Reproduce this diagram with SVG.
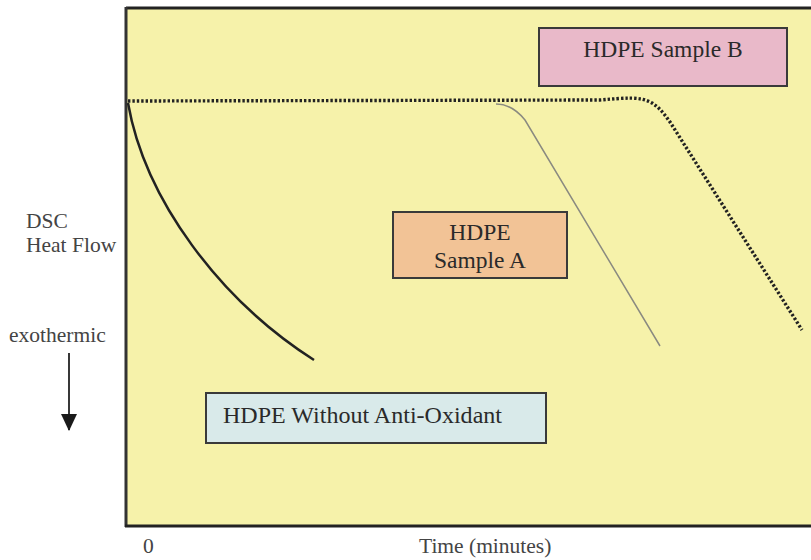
<svg xmlns="http://www.w3.org/2000/svg" width="811" height="560" viewBox="0 0 811 560">
<style>
text{font-family:"Liberation Serif","Times New Roman",serif;fill:#2a2a2a}
.box{stroke:#3a3a3a;stroke-width:2}
.lbl{font-size:23.5px;text-anchor:middle}
.ax{font-size:21.5px;fill:#444}
</style>
<defs>
<marker id="ah" markerWidth="18" markerHeight="16" refX="16" refY="8" orient="auto" markerUnits="userSpaceOnUse" viewBox="0 0 18 16">
<path d="M0,0 L17,8 L0,16 Z" fill="#1a1a1a"/>
</marker>
</defs>
<rect width="811" height="560" fill="#ffffff"/>
<g id="plot">
<rect x="126" y="8" width="700" height="518" fill="#f6f2aa"/>
<line x1="126" y1="8" x2="811" y2="8" stroke="#222" stroke-width="3"/>
<line x1="126" y1="7" x2="126" y2="527" stroke="#333" stroke-width="3"/>
<line x1="125" y1="526" x2="811" y2="526" stroke="#222" stroke-width="3"/>
</g>
<g id="curves">
<path d="M128,101 L600,100 C625,98 640,96 652,103 C660,108 665,115 670,122 L802,330" fill="none" stroke="#222" stroke-width="3.4" stroke-dasharray="2.4 2"/>
<path d="M496,104 Q512,104 525,120 L660,346" fill="none" stroke="#8a8a80" stroke-width="1.5"/>
<path d="M128,103 C145,200 220,300 314,360" fill="none" stroke="#222" stroke-width="2.5"/>
</g>
<g id="sampleB">
<rect class="box" x="539" y="28" width="248" height="58" fill="#e9b9c9"/>
<text class="lbl" x="663" y="57">HDPE Sample B</text>
</g>
<g id="sampleA">
<rect class="box" x="393" y="212" width="174" height="66" fill="#f2c396"/>
<text class="lbl" x="480" y="240">HDPE</text>
<text class="lbl" x="480" y="268">Sample A</text>
</g>
<g id="withoutAO">
<rect class="box" x="206" y="393" width="340" height="50" fill="#d9eaea"/>
<text x="223" y="423" font-size="23.5" textLength="279" lengthAdjust="spacingAndGlyphs">HDPE Without Anti-Oxidant</text>
</g>
<g id="axisLabels">
<text class="ax" x="26" y="228">DSC</text>
<text class="ax" x="26" y="252">Heat Flow</text>
<text class="ax" x="9" y="342">exothermic</text>
<line x1="69" y1="353" x2="69" y2="430" stroke="#222" stroke-width="1.8" marker-end="url(#ah)"/>
<text class="ax" x="143" y="553" font-size="19">0</text>
<text class="ax" x="419" y="553">Time (minutes)</text>
</g>
</svg>
